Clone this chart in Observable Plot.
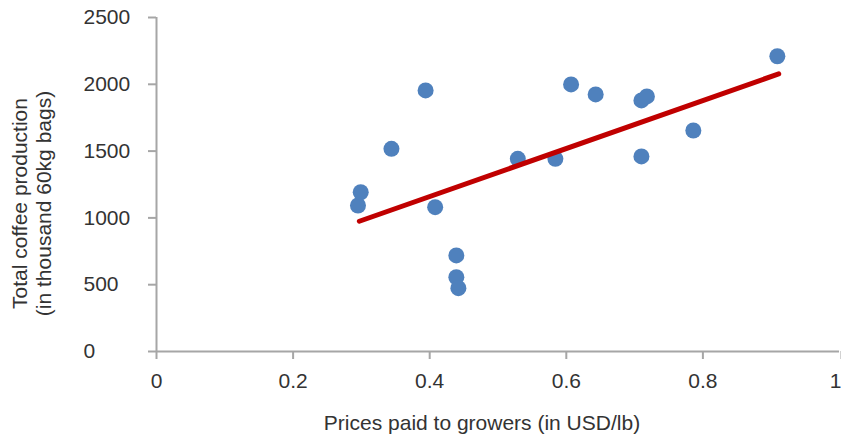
<!DOCTYPE html>
<html>
<head>
<meta charset="utf-8">
<script src="https://cdn.jsdelivr.net/npm/d3@7"></script>
<script src="https://cdn.jsdelivr.net/npm/@observablehq/plot@0.6"></script>
<style>
  html, body { margin: 0; padding: 0; background: #fff; }
  #chart { width: 841px; height: 436px; }
</style>
</head>
<body>
<div id="chart"></div>
<script>
// Prices paid to growers (USD/lb) and total coffee production (thousand 60kg bags)
const price = [0.295, 0.299, 0.344, 0.394, 0.408, 0.439, 0.439, 0.442, 0.529, 0.584, 0.607, 0.643, 0.710, 0.718, 0.710, 0.786, 0.909];
const production = [1093, 1192, 1517, 1954, 1080, 719, 556, 474, 1442, 1442, 1999, 1924, 1879, 1909, 1460, 1654, 2210];

// Linear trend line end points
const trendPrice = [0.297, 0.911];
const trendProduction = [975, 2078];

const xTicks = [0, 0.2, 0.4, 0.6, 0.8, 1];
const yTicks = [0, 500, 1000, 1500, 2000, 2500];

const xTitle = "Prices paid to growers (in USD/lb)";
const yTitle = "Total coffee production\n(in thousand 60kg bags)";

const points = price.map((p, i) => ({price: p, production: production[i]}));
const trend = trendPrice.map((p, i) => ({price: p, production: trendProduction[i]}));

const axisGray = "#a6a6a6";
const textColor = "#333";
const fs = 21;

const chart = Plot.plot({
  width: 841,
  height: 436,
  marginLeft: 156,
  marginRight: 2,
  marginTop: 17,
  marginBottom: 85,
  style: {
    fontFamily: "'Helvetica Neue', 'Liberation Sans', Arial, sans-serif",
    fontSize: fs + "px",
    color: textColor,
    background: "#fff",
    overflow: "visible"
  },
  x: {domain: [0, 1], axis: null},
  y: {domain: [0, 2500], axis: null},
  marks: [
    Plot.ruleY([0], {stroke: axisGray, strokeWidth: 2}),
    Plot.ruleX([0], {stroke: axisGray, strokeWidth: 2}),
    Plot.axisX({
      ticks: xTicks.slice(0, -1),
      tickFormat: d => String(d),
      tickSize: 8,
      tickPadding: 14,
      stroke: axisGray,
      strokeWidth: 2,
      fill: textColor,
      fontSize: fs,
      label: null
    }),
    Plot.axisX({
      ticks: xTicks.slice(-1),
      tickFormat: d => String(d),
      tickSize: 8,
      tickPadding: 14,
      textAnchor: "end",
      dx: 2,
      stroke: axisGray,
      strokeWidth: 2,
      fill: textColor,
      fontSize: fs,
      label: null
    }),
    Plot.axisY({
      ticks: yTicks,
      tickFormat: d => String(d),
      tickSize: 8,
      tickPadding: 65,
      textAnchor: "start",
      stroke: axisGray,
      strokeWidth: 2,
      fill: textColor,
      fontSize: fs,
      label: null
    }),
    Plot.dot(points, {x: "price", y: "production", r: 8, fill: "#4f81bd", stroke: null}),
    Plot.line(trend, {x: "price", y: "production", stroke: "#c00000", strokeWidth: 5, strokeLinecap: "round"}),
    Plot.text([xTitle], {frameAnchor: "bottom", text: d => d, dx: -16, dy: 78, fontSize: fs, fill: textColor}),
    Plot.text([yTitle], {frameAnchor: "left", text: d => d, textAnchor: "middle", rotate: -90, dx: -125, dy: 19, lineHeight: 1.12, fontSize: fs, fill: textColor})
  ]
});

document.getElementById("chart").appendChild(chart);
</script>
</body>
</html>
